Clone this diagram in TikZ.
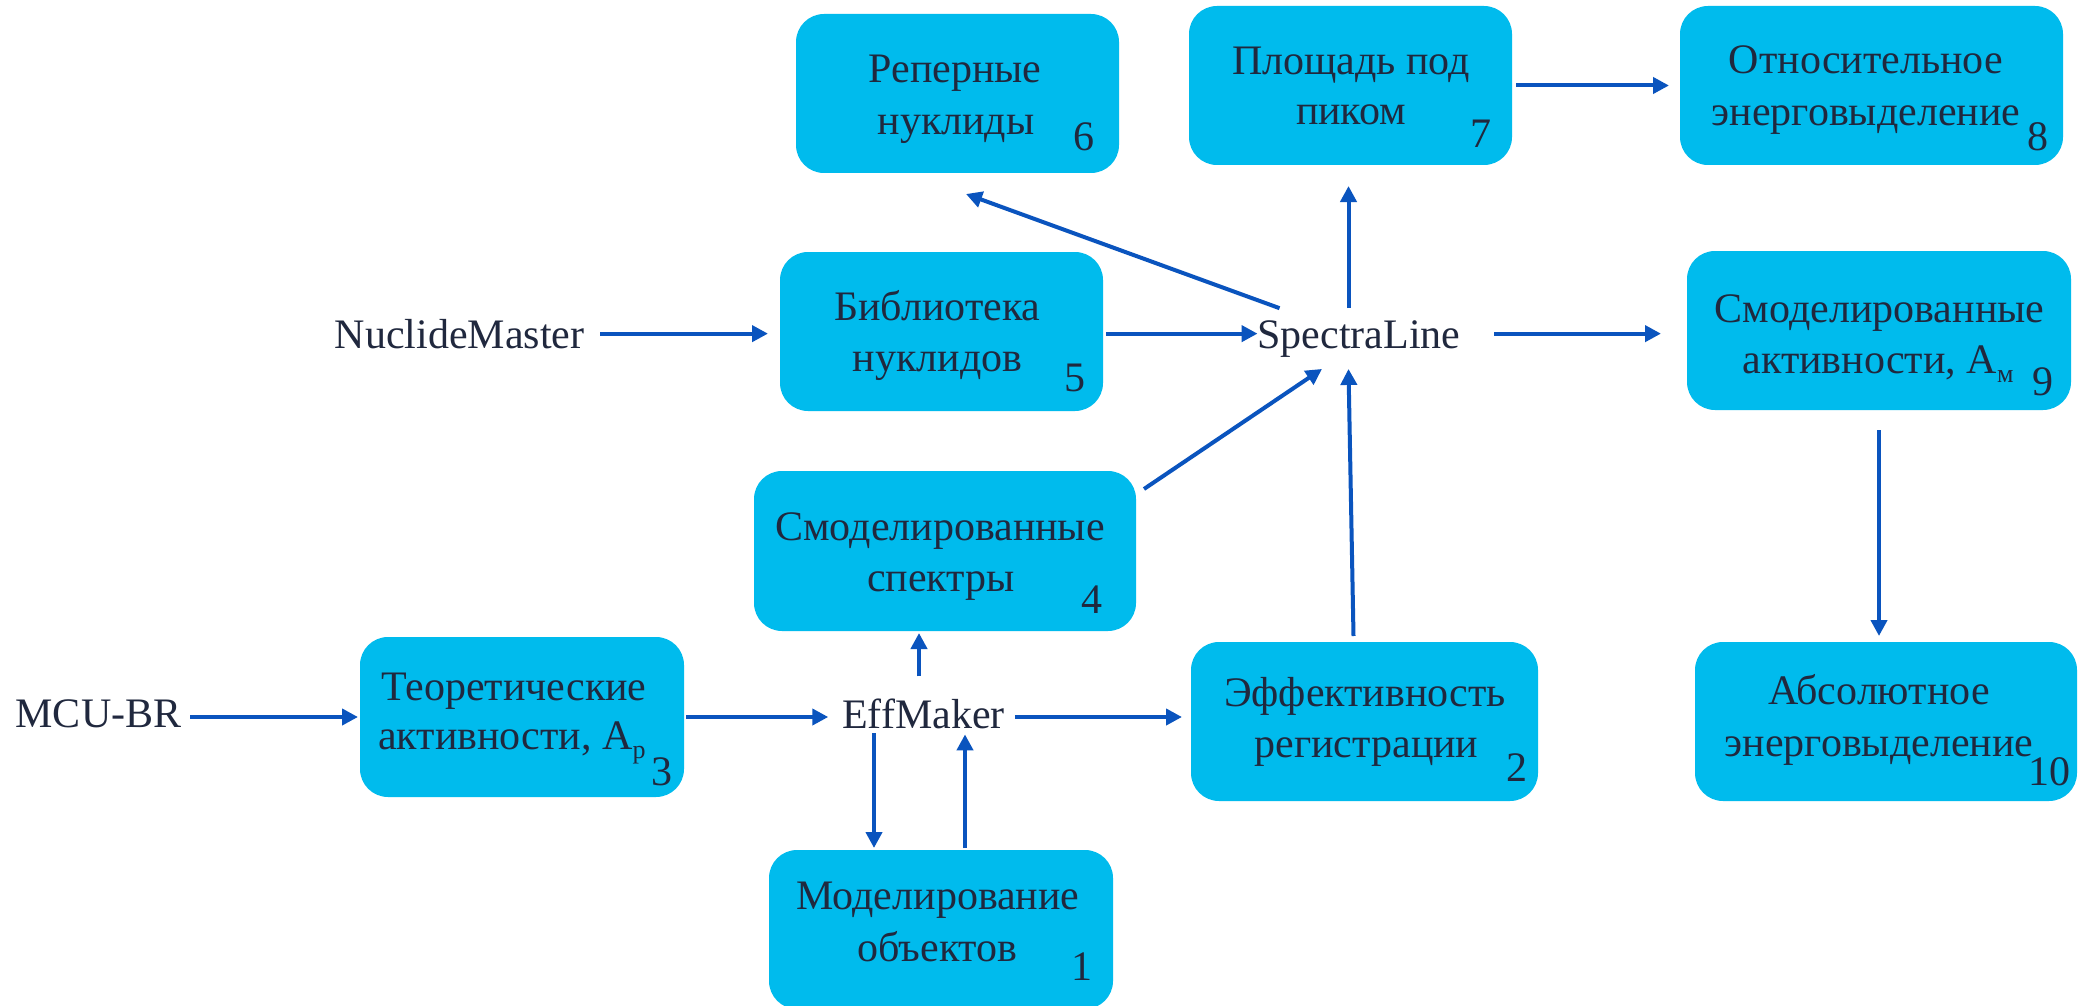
\documentclass[tikz,border=0pt]{standalone}
\usepackage{fontspec}
\setmainfont{Liberation Serif}
\usetikzlibrary{arrows.meta,calc,fit}
\definecolor{boxfill}{RGB}{0,187,237}
\definecolor{arrowblue}{RGB}{10,84,190}
\definecolor{txtcol}{RGB}{32,40,62}
\newcommand\lowsub[1]{\raisebox{-4.5pt}{\fontsize{13pt}{13pt}\selectfont #1}}
\begin{document}
\begin{tikzpicture}[x=0.5pt,y=-0.5pt,
  box/.style={fill=boxfill, rounded corners=14pt, inner sep=0pt, outer sep=0pt},
  txt/.style={text=txtcol, font=\fontsize{21pt}{26pt}\selectfont, inner sep=0pt, outer sep=0pt, anchor=base},
  arr/.style={draw=arrowblue, line width=2pt, -{Triangle[length=8pt,width=8pt]}}]
\useasboundingbox (0,0) rectangle (2078,1006);
\fill[white] (0,0) rectangle (2078,1006);

% boxes
\node[box, fit={(796,14) (1119,173)}] (b6) {};
\node[box, fit={(1189,6) (1512,165)}] (b7) {};
\node[box, fit={(1680,6) (2063,165)}] (b8) {};
\node[box, fit={(780,252) (1103,411)}] (b5) {};
\node[box, fit={(1687,251) (2071,410)}] (b9) {};
\node[box, fit={(754,471) (1136,631)}] (b4) {};
\node[box, fit={(360,637) (684,797)}] (b3) {};
\node[box, fit={(1191,642) (1538,801)}] (b2) {};
\node[box, fit={(1695,642) (2077,801)}] (b10) {};
\node[box, fit={(769,850) (1113,1009)}] (b1) {};

% box texts
\node[txt] (t6a) at (955,83) {Реперные};
\node[txt] (t6b) at (956,134) {нуклиды};
\node[txt] (t7a) at (1351,75) {Площадь под};
\node[txt] (t7b) at (1351,125) {пиком};
\node[txt] (t8a) at (1866,74) {Относительное};
\node[txt] (t8b) at (1866,126) {энерговыделение};
\node[txt] (t5a) at (937.5,320) {Библиотека};
\node[txt] (t5b) at (937.5,371.5) {нуклидов};
\node[txt] (t9a) at (1879.5,322) {Смоделированные};
\node[txt] (t9b) at (1878,373) {активности, А\lowsub{м}};
\node[txt] (t4a) at (940,540) {Смоделированные};
\node[txt] (t4b) at (941,591) {спектры};
\node[txt] (t3a) at (514,700) {Теоретические};
\node[txt] (t3b) at (512,749) {активности, А\lowsub{р}};
\node[txt] (t2a) at (1365,706) {Эффективность};
\node[txt] (t2b) at (1366.5,757) {регистрации};
\node[txt] (t10a) at (1879,704) {Абсолютное};
\node[txt] (t10b) at (1879,756) {энерговыделение};
\node[txt] (t1a) at (938,909) {Моделирование};
\node[txt] (t1b) at (937.5,961) {объектов};

% numbers
\node[txt] (n6) at (1083.5,151) {6};
\node[txt] (n7) at (1480.5,148) {7};
\node[txt] (n8) at (2037.5,150) {8};
\node[txt] (n5) at (1075,391) {5};
\node[txt] (n9) at (2043,395) {9};
\node[txt] (n4) at (1092,613) {4};
\node[txt] (n3) at (662,785) {3};
\node[txt] (n2) at (1516.5,781) {2};
\node[txt] (n10) at (2049.5,785) {10};
\node[txt] (n1) at (1081.5,980) {1};

% free labels
\node[txt] (lNM) at (459.5,348) {NuclideMaster};
\node[txt] (lSL) at (1359,348) {SpectraLine};
\node[txt] (lMCU) at (98.5,727) {MCU-BR};
\node[txt] (lEff) at (923.5,728) {EffMaker};

% row arrows
\draw[arr, shorten <=8pt, shorten >=6pt] (lNM.east) -- (lNM.east -| b5.west);
\draw[arr, shorten <=1.5pt] (b5.east |- lNM.east) -- (lSL.west |- lNM.east);
\draw[arr, shorten <=17pt, shorten >=13pt] (lSL.east |- lNM.east) -- (b9.west |- lNM.east);
\draw[arr, shorten <=2pt, shorten >=5.5pt] (b7.east) -- (b8.west);
\draw[arr, shorten <=4.5pt, shorten >=1pt] (lMCU.east |- b3.west) -- (b3.west);
\draw[arr, shorten <=1pt, shorten >=7pt] (b3.east) -- (b3.east -| lEff.west);
\draw[arr, shorten <=5pt, shorten >=4.5pt] (b3.east -| lEff.east) -- (b3.east -| b2.west);

% vertical and diagonal arrows
\draw[arr, shorten <=10pt, shorten >=3pt] (b9.south) -- (b9.south |- b10.north);
\draw[arr] ($(lSL.north west)+(22,-12)$) -- ($(b6.south)+(8.5,21)$);
\coordinate (sl7) at ($(lSL.north)+(-10.5,-12)$);
\draw[arr, shorten >=10.5pt] (sl7) -- (sl7 |- b7.south);
\draw[arr] ($(b4.north east)+(8,18)$) -- ($(lSL.south)+(-37,12)$);
\draw[arr] ($(b2.north)+(-11,-6)$) -- ($(lSL.south)+(-10.5,12)$);
\coordinate (e4) at ($(lEff.north)+(-4.5,-22)$);
\draw[arr, shorten >=1pt] (e4) -- (e4 |- b4.south);
\coordinate (e1) at ($(lEff.south)+(-49.5,5)$);
\draw[arr, shorten >=1pt] (e1) -- (e1 |- b1.north);
\coordinate (e1b) at ($(lEff.south)+(41.5,6)$);
\draw[arr, shorten <=1pt] (e1b |- b1.north) -- (e1b);
\end{tikzpicture}
\end{document}
